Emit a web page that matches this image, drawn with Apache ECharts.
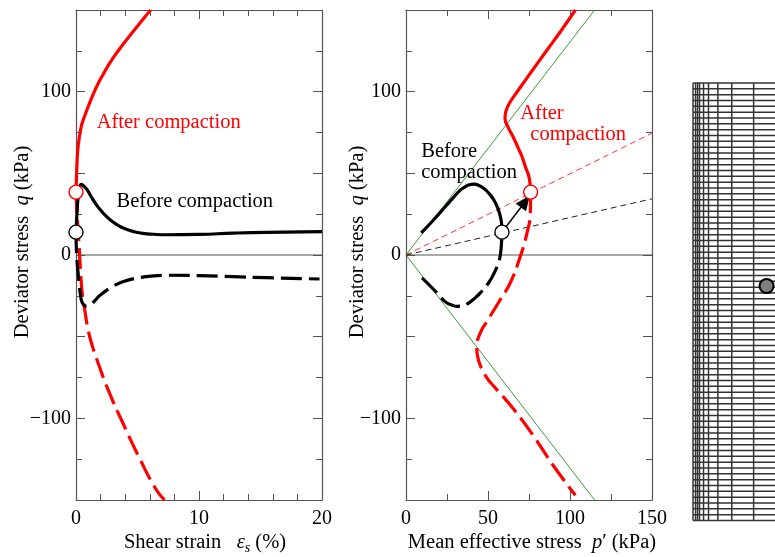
<!DOCTYPE html>
<html><head><meta charset="utf-8">
<style>html,body{margin:0;padding:0;background:#fff}#c{width:775px;height:557px}</style>
<script src="https://cdn.jsdelivr.net/npm/echarts@6/dist/echarts.min.js"></script>
</head><body><div id="c"></div>
<script>
// Left panel: shear strain (%), deviator stress (kPa)
const strainAfterComp = [[0,38.5],[0.04,48],[0.08,56],[0.14,64],[0.24,70.5],[0.43,78.7],[0.6,83],[0.79,86.8],[1.05,92],[1.38,98],[1.8,105],[2.2,110.5],[2.7,117],[3.28,123.5],[3.95,130.2],[4.63,136.7],[5.3,143],[6.07,150]];
const strainBeforeComp = [[0,14],[0.08,25.7],[0.18,36],[0.3,41.5],[0.43,43.2],[0.6,42.4],[0.9,40],[1.25,35.5],[1.65,30.8],[2.05,27],[2.47,23.6],[2.9,20.8],[3.28,18.8],[3.7,17],[4.2,15.5],[4.8,14.1],[5.45,13.2],[6.3,12.7],[7.3,12.4],[10,12.6],[12.8,13.4],[15.5,13.9],[20,14.3]];
const strainBeforeExt = [[0,14],[0.05,0],[0.16,-10],[0.26,-18],[0.38,-25.3],[0.5,-29],[0.68,-30.9],[0.9,-31.4],[1.25,-30],[1.55,-27.8],[1.92,-24.9],[2.45,-21.8],[3,-19.2],[3.5,-17.3],[4.1,-15.7],[4.75,-14.4],[5.45,-13.5],[6.3,-12.8],[7.3,-12.4],[10,-12.6],[12.8,-13.3],[15.5,-13.9],[19.8,-14.7]];
const strainAfterExt = [[0,38.5],[0.08,25.7],[0.22,9.4],[0.38,-11],[0.5,-23.2],[0.7,-33],[0.98,-45.6],[1.3,-55],[1.65,-63],[2.6,-82.3],[3.8,-102.7],[5.2,-125],[6.5,-143.4],[7.2,-150]];
const strainStates = [[0,38.5],[0,14]];
const strainZero = [[0,0],[20,0]];
// Middle panel: mean effective stress (kPa), deviator stress (kPa)
const pathAfterComp = [[76,38.5],[75.6,44],[74.8,48.5],[73,53.5],[70.7,60.3],[68.2,66],[65.7,71.5],[63.2,76.3],[61.6,79.7],[60.6,82],[60.4,84.4],[60.7,87],[61.6,89.9],[63.4,93.5],[65.7,97],[70.5,103.8],[75.8,111.3],[86,125.5],[94.1,136.7],[103.3,150]];
const pathBeforeComp = [[58.5,14],[58.3,19],[57.5,23.6],[55.9,28.8],[53.5,33.8],[50.5,37.8],[47.4,40.8],[44.5,42.6],[41.3,43.4],[38.2,42.8],[35.5,41.4],[33.1,39.7],[29,35.3],[25,30.8],[16.9,21.6],[9.3,13.5]];
const pathBeforeExt = [[9.8,-14],[18.9,-23.2],[21.8,-26.6],[25,-29.4],[27.8,-30.6],[31.1,-31.4],[34.8,-30.9],[38.2,-29.4],[41.8,-26.6],[45.3,-23.2],[50.4,-17],[54.5,-9.5],[56.3,-5],[57.5,0],[58.2,7],[58.5,14]];
const pathAfterExt = [[76,38.5],[75.8,25.7],[73.8,13.5],[69.7,-0.8],[63.6,-17],[57.5,-27.3],[49.4,-40.6],[46.8,-44.6],[45.3,-47.7],[44,-51],[43.3,-53.8],[43.2,-57.9],[43.7,-62],[44.7,-66],[47.4,-72.1],[50,-76.2],[53.5,-80.3],[65.7,-94.5],[77.8,-110.9],[90,-129.2],[103.3,-147.1]];
const failureUpper = [[0,0],[115,150]];
const failureLower = [[0,0],[115,-150]];
const stressRatioAfter = [[0,0],[150,74.6]];
const stressRatioBefore = [[0,0],[150,34.4]];
const pathZero = [[0,0],[150,0]];
const pathArrow = [[58.5,14],[72.8,32.8]];
const blackState = [[58.5,14]];
const redState = [[76,38.5]];
// Right panel: finite-element mesh
const meshColumns = [0,2.6,4.6,6.6,10.6,15.6,25,39,61];
const meshRows = [0,1,2,3,4,5,6,7,8,9,10,11,12,13,14,15,16,17,18,19,20,21,22,23,24,25,26,27,28,29,30,31,32,33,34,35,36,37,38,39,40,41,42,43,44,45,46,47,48,49,50,51,52,53,54,55,56,57,58,59,60,61,62,63,64,65,66,67,68,69,70,71,72,73,74,75];
const meshNode = [[74,34.8]];
// Tick labels
const qTickLabels = {'100':'100','0':'0','-100':'\u2212100'};
const strainTickLabels = {'0':'0','10':'10','20':'20'};
const pTickLabels = {'0':'0','50':'50','100':'100','150':'150'};

const SERIF = '"Liberation Serif","Times New Roman",serif';
const AXC = '#555';
const RED = '#f00';
const BLK = '#000';

function valueAxis(base){
  return Object.assign({
    type:'value', scale:false,
    axisLine:{show:true,onZero:false,lineStyle:{color:AXC,width:1.2}},
    axisTick:{show:true,inside:true,length:9,lineStyle:{color:AXC,width:1}},
    minorTick:{show:true,length:6,lineStyle:{color:AXC,width:1}},
    splitLine:{show:false}, minorSplitLine:{show:false}
  },base);
}
function labels(map,margin,pad){
  return {show:true,margin:margin,showMinLabel:true,showMaxLabel:true,hideOverlap:false,
    color:'#000',fontFamily:SERIF,fontSize:20,padding:pad||0,
    formatter:v=>map[String(v)]||''};
}
const QAX = {min:-150,max:150,interval:50};
const xAxis = [
  valueAxis({gridIndex:0,position:'bottom',min:0,max:20,interval:10,minorTick:{show:true,length:6,splitNumber:5,lineStyle:{color:AXC,width:1}},axisLabel:labels(strainTickLabels,9)}),
  valueAxis({gridIndex:0,position:'top',min:0,max:20,interval:10,minorTick:{show:true,length:6,splitNumber:5,lineStyle:{color:AXC,width:1}},axisLabel:{show:false}}),
  valueAxis({gridIndex:1,position:'bottom',min:0,max:150,interval:50,minorTick:{show:true,length:6,splitNumber:2,lineStyle:{color:AXC,width:1}},axisLabel:labels(pTickLabels,9)}),
  valueAxis({gridIndex:1,position:'top',min:0,max:150,interval:50,minorTick:{show:true,length:6,splitNumber:2,lineStyle:{color:AXC,width:1}},axisLabel:{show:false}}),
  {type:'value',gridIndex:2,min:0,max:82.5,show:false}
];
const qMinor = {show:true,length:6,splitNumber:2,lineStyle:{color:AXC,width:1}};
const yAxis = [
  valueAxis(Object.assign({gridIndex:0,position:'left',minorTick:qMinor,axisLabel:labels(qTickLabels,5,[5,0,0,0])},QAX)),
  valueAxis(Object.assign({gridIndex:0,position:'right',minorTick:qMinor,axisLabel:{show:false}},QAX)),
  valueAxis(Object.assign({gridIndex:1,position:'left',minorTick:qMinor,axisLabel:labels(qTickLabels,5,[5,0,0,0])},QAX)),
  valueAxis(Object.assign({gridIndex:1,position:'right',minorTick:qMinor,axisLabel:{show:false}},QAX)),
  {type:'value',gridIndex:2,min:0,max:75,inverse:true,show:false}
];
function line(ax,data,color,width,dash,z){
  return {type:'line',xAxisIndex:ax,yAxisIndex:ax,data:data,showSymbol:false,symbol:'none',smooth:false,silent:true,
    clip:false,z:z||3,animation:false,lineStyle:{color:color,width:width,type:dash||'solid',cap:'butt',join:'round'}};
}
function curve(ax,data,color,dash){
  const s=line(ax,data,color,3.2,dash,4); s.smooth=0.5; return s;
}
function states(ax,data,color){
  return {type:'scatter',xAxisIndex:ax,yAxisIndex:ax,data:data,symbol:'circle',symbolSize:14,clip:false,z:8,silent:true,animation:false,
    itemStyle:{color:'#fff',borderColor:color,borderWidth:1.4,opacity:1}};
}
function note(ax,pt,text,color){
  return {type:'scatter',xAxisIndex:ax,yAxisIndex:ax,data:[pt],symbolSize:0,silent:true,z:9,animation:false,
    itemStyle:{opacity:1},
    label:{show:true,position:'right',distance:0,formatter:text,color:color,opacity:1,fontFamily:SERIF,fontSize:20.5}};
}
const DASH=[21,7];
const series = [
  line(0,strainZero,'#555',1,null,2),
  curve(0,strainAfterExt,RED,DASH),
  curve(0,strainBeforeExt,BLK,DASH),
  curve(0,strainBeforeComp,BLK),
  curve(0,strainAfterComp,RED),
  states(0,[strainStates[1]],BLK),
  states(0,[strainStates[0]],RED),
  note(0,[1.68,80.8],'After compaction',RED),
  note(0,[3.3,32.8],'Before compaction','#000'),

  line(2,pathZero,'#555',1,null,2),
  line(2,failureUpper,'#3a9a3a',1,null,2),
  line(2,failureLower,'#3a9a3a',1,null,2),
  line(2,stressRatioAfter,'#f33',1,[6,4],2),
  line(2,stressRatioBefore,'#222',1,[6,4],2),
  curve(2,pathBeforeExt,BLK,DASH),
  curve(2,pathAfterExt,RED,DASH),
  curve(2,pathBeforeComp,BLK),
  curve(2,pathAfterComp,RED),
  {type:'line',xAxisIndex:2,yAxisIndex:2,data:[],silent:true,z:6,animation:false,
    markLine:{silent:true,animation:false,symbol:['none','triangle'],symbolSize:[13,15],label:{show:false},
      lineStyle:{color:BLK,width:1.6,type:'solid'},
      data:[[{coord:pathArrow[0]},{coord:pathArrow[1]}]]}},
  states(2,blackState,BLK),
  states(2,redState,RED),
  note(2,[69.7,86.6],'After',RED),
  note(2,[75.8,73.8],'compaction',RED),
  note(2,[9.3,63],'Before','#000'),
  note(2,[9.3,50.2],'compaction','#000')
];
meshColumns.forEach(c=>series.push(line(4,[[c,meshRows[0]],[c,meshRows[meshRows.length-1]]],'#333',1.5)));
meshRows.forEach(r=>series.push(line(4,[[meshColumns[0],r],[82.5,r]],'#333',1.5)));
series.push({type:'scatter',xAxisIndex:4,yAxisIndex:4,data:meshNode,symbol:'circle',symbolSize:14,clip:false,z:8,silent:true,animation:false,
  itemStyle:{color:'#808080',borderColor:'#000',borderWidth:2,opacity:1}});

function axisTitle(x,y,rot,rich,text){
  return {type:'text',x:x,y:y,rotation:rot,style:{text:text,x:0,y:0,align:'center',verticalAlign:'middle',
    font:'20.5px '+SERIF,fill:'#000',rich:rich},silent:true,z:10};
}
const IT={fontStyle:'italic',fontFamily:SERIF,fontSize:20.5,fill:'#000'};
const rich={i:IT,sub:{fontStyle:'italic',fontFamily:SERIF,fontSize:14,fill:'#000',verticalAlign:'bottom',padding:[10,0,0,0]},n:{fontFamily:SERIF,fontSize:20.5,fill:'#000'}};
const graphic=[
  axisTitle(23,242,Math.PI/2,rich,'{n|Deviator stress  }{i|q}{n| (kPa)}'),
  axisTitle(358,242,Math.PI/2,rich,'{n|Deviator stress  }{i|q}{n| (kPa)}'),
  axisTitle(205,543,0,rich,'{n|Shear strain   }{i|\u03b5}{sub|s}{n| (%)}'),
  axisTitle(532,543,0,rich,'{n|Mean effective stress  }{i|p}{n|\u2032 (kPa)}')
];
const chart=echarts.init(document.getElementById('c'),null,{renderer:'canvas'});
chart.setOption({
  animation:false,backgroundColor:'#fff',
  grid:[
    {left:76,top:10,width:246,height:490,containLabel:false},
    {left:406,top:10,width:246,height:490,containLabel:false},
    {left:693,top:83,width:82.5,height:437.5,containLabel:false}
  ],
  xAxis:xAxis,yAxis:yAxis,series:series,graphic:{elements:graphic}
});
</script></body></html>
